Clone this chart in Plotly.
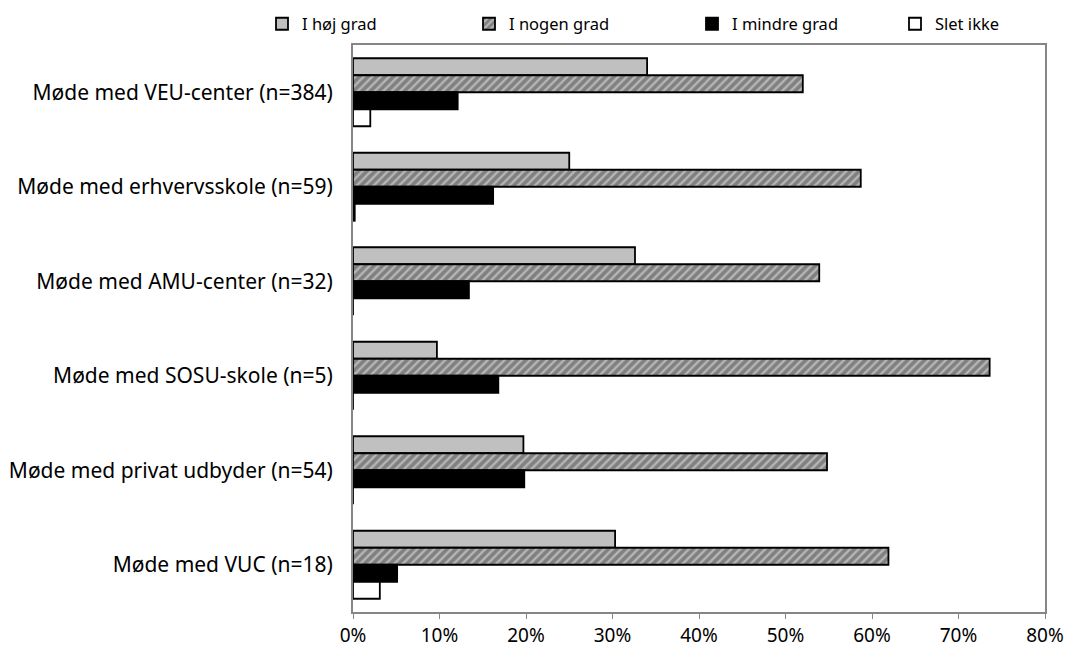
import plotly.graph_objects as go

# Meeting types (top to bottom) and share of answers per response level (%)
categories = [
    "Møde med VEU-center (n=384)",
    "Møde med erhvervsskole (n=59)",
    "Møde med AMU-center (n=32)",
    "Møde med SOSU-skole (n=5)",
    "Møde med privat udbyder (n=54)",
    "Møde med VUC (n=18)",
]
series_names = ["I høj grad", "I nogen grad", "I mindre grad", "Slet ikke"]
hoej_grad = [34.0, 25.0, 32.6, 9.7, 19.7, 30.3]
nogen_grad = [52.0, 58.7, 53.9, 73.6, 54.8, 61.9]
mindre_grad = [12.1, 16.2, 13.4, 16.8, 19.8, 5.1]
slet_ikke = [2.0, 0.2, 0.0, 0.0, 0.0, 3.1]
x_tick_vals = [0, 10, 20, 30, 40, 50, 60, 70, 80]
x_tick_text = ["0%", "10%", "20%", "30%", "40%", "50%", "60%", "70%", "80%"]

FONT = "Noto Sans"
outline = dict(color="#000000", width=1.8)

# one legend box per series so each entry sits at its own spot along the top
legend_ids = ["legend", "legend2", "legend3", "legend4"]
legend_x_px = [262, 469, 692, 895]

markers = [
    dict(color="#c0c0c0", line=outline),
    dict(color="#8a8a8a", line=outline,
         pattern=dict(shape="/", bgcolor="#808080", fgcolor="#ececec",
                      size=6, solidity=0.4, fillmode="overlay")),
    dict(color="#000000", line=outline),
    dict(color="#ffffff", line=outline),
]
values = [hoej_grad, nogen_grad, mindre_grad, slet_ikke]

fig = go.Figure()
for name, vals, mk, lg in zip(series_names, values, markers, legend_ids):
    fig.add_trace(go.Bar(
        name=name, y=categories, x=vals, orientation="h",
        marker=mk, legend=lg,
    ))

layout_legends = {}
for lg, px in zip(legend_ids, legend_x_px):
    layout_legends[lg] = dict(
        orientation="h", xref="container", yref="container",
        x=px / 1070, y=1 - 24 / 648, xanchor="left", yanchor="middle",
        font=dict(family=FONT, size=16.5, color="#000000"),
        itemwidth=30, bgcolor="rgba(0,0,0,0)",
    )

fig.update_layout(
    width=1070, height=648,
    margin=dict(l=353, r=25, t=45, b=36, autoexpand=False),
    paper_bgcolor="#ffffff", plot_bgcolor="#ffffff",
    font=dict(family=FONT, size=16, color="#000000"),
    barmode="group", bargap=0.28, bargroupgap=0.0,
    showlegend=True,
    xaxis=dict(
        range=[0, 80], tickvals=x_tick_vals, ticktext=x_tick_text,
        showgrid=False, zeroline=False,
        showline=True, linecolor="#868686", linewidth=2, mirror=True,
        ticks="outside", ticklen=5, tickcolor="#868686", tickwidth=1,
        tickfont=dict(family=FONT, size=19),
    ),
    yaxis=dict(
        autorange="reversed", showgrid=False, zeroline=False,
        showline=True, linecolor="#868686", linewidth=2, mirror=True,
        ticks="", ticklabelstandoff=14,
        tickfont=dict(family=FONT, size=21),
    ),
    **layout_legends,
)

fig.write_html("out.html")
